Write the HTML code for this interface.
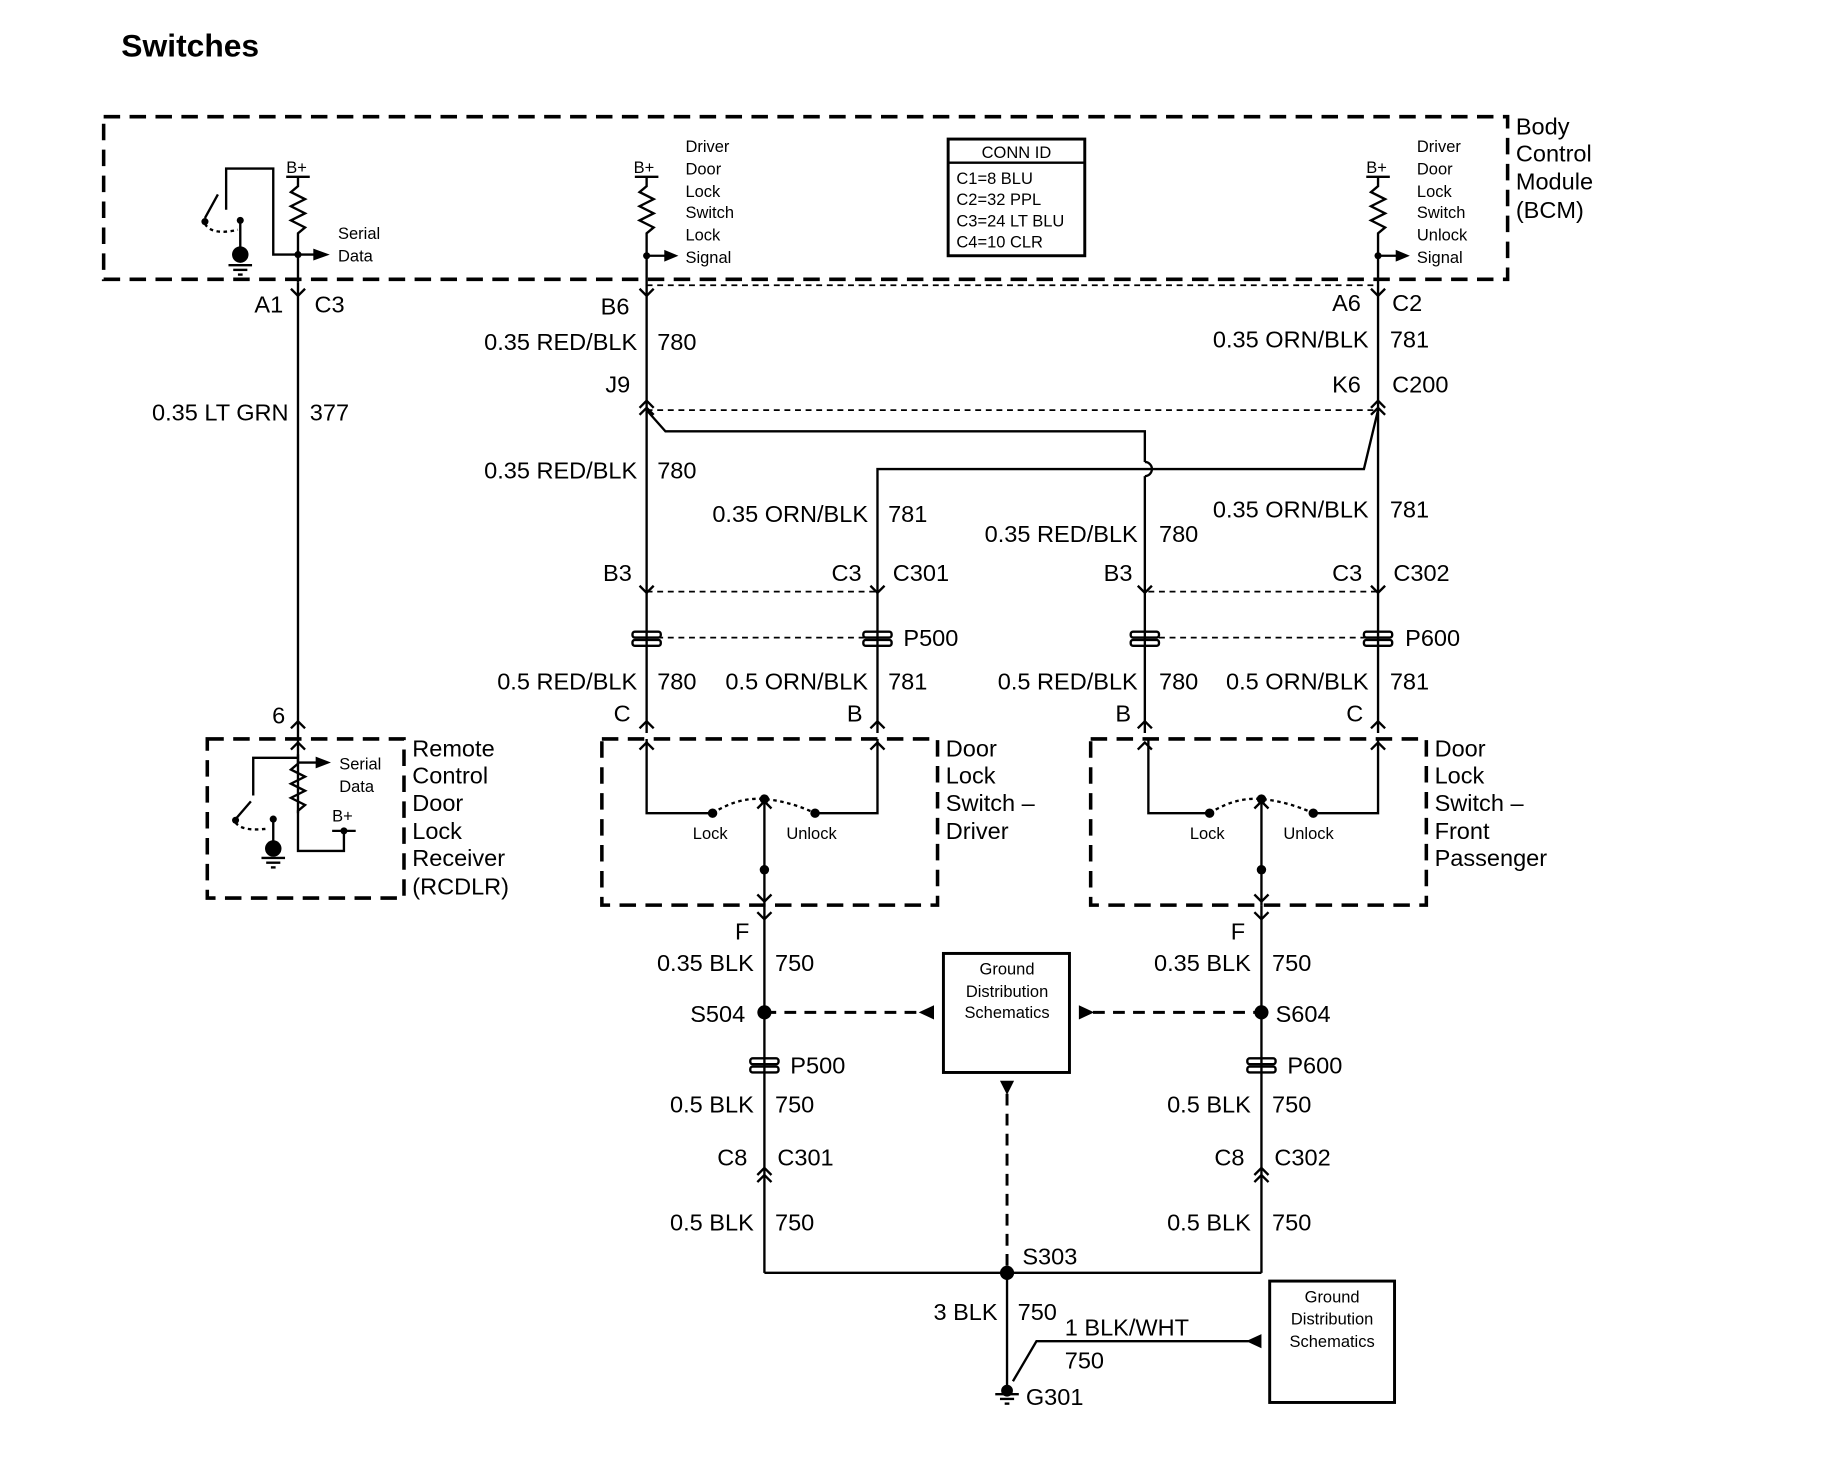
<!DOCTYPE html>
<html><head><meta charset="utf-8"><style>
html,body{margin:0;padding:0;background:#fff}
svg{display:block}
text{font-family:"Liberation Sans",Arial,sans-serif;fill:#000}
</style></head><body>
<svg width="1848" height="1472" viewBox="0 0 1569 1249" preserveAspectRatio="none" xmlns="http://www.w3.org/2000/svg">
<g stroke="#000" fill="none" stroke-width="2">
<g stroke-width="3" stroke-dasharray="14,8">
<rect x="88" y="99" width="1192" height="138"/>
<rect x="176" y="627" width="167" height="135"/>
<rect x="511" y="627" width="285" height="141"/>
<rect x="926" y="627" width="285" height="141"/>
</g>
<g stroke-width="1.5" stroke-dasharray="5,4">
<line x1="549" y1="242" x2="1170" y2="242"/>
<line x1="549" y1="348" x2="1170" y2="348"/>
<line x1="549" y1="502" x2="745" y2="502"/>
<line x1="975" y1="502" x2="1170" y2="502"/>
<line x1="549" y1="541" x2="745" y2="541"/>
<line x1="975" y1="541" x2="1170" y2="541"/>
</g>
<g stroke-width="2.5" stroke-dasharray="10,7">
<line x1="649" y1="859" x2="785" y2="859"/>
<line x1="928" y1="859" x2="1071" y2="859"/>
<line x1="855" y1="928" x2="855" y2="1080"/>
</g>
<rect x="805" y="118" width="116" height="99" stroke-width="2.5"/>
<line x1="805" y1="138" x2="921" y2="138"/>
<rect x="801" y="809" width="107" height="101" stroke-width="2.5"/>
<rect x="1078" y="1087" width="106" height="103" stroke-width="2.5"/>
<polyline points="192,178 192,143 232,143 232,216 268,216"/>
<polyline points="253,150 253,158 247,163 259,169 247,175 259,181 247,187 259,193 253,198 253,240"/>
<line x1="243" y1="150" x2="263" y2="150"/>
<line x1="185" y1="165" x2="174" y2="185"/>
<path d="M174,190 Q180,200 202,195" stroke-dasharray="3,3"/>
<line x1="204" y1="188" x2="204" y2="212"/>
<line x1="194" y1="225" x2="214" y2="225"/><line x1="198" y1="229" x2="210" y2="229"/><line x1="202" y1="233" x2="206" y2="233"/>
<polyline points="549,150 549,158 543,163 555,169 543,175 555,181 543,187 555,193 549,198 549,622"/>
<line x1="539" y1="150" x2="559" y2="150"/>
<line x1="549" y1="217" x2="566" y2="217"/>
<polyline points="1170,150 1170,158 1164,163 1176,169 1164,175 1176,181 1164,187 1176,193 1170,198 1170,622"/>
<line x1="1160" y1="150" x2="1180" y2="150"/>
<line x1="1170" y1="217" x2="1187" y2="217"/>
<line x1="253" y1="240" x2="253" y2="690"/>
<polyline points="549,348 565,366 972,366 972,392"/>
<path d="M972,392 A6,6 0 0 1 972,404"/>
<line x1="972" y1="404" x2="972" y2="622"/>
<polyline points="1170,348 1158,398 745,398 745,622"/>
<g stroke-width="2">
<polyline points="247,245 253,251 259,245"/>
<polyline points="543,245 549,251 555,245"/>
<polyline points="1164,245 1170,251 1176,245"/>
<polyline points="543,346 549,340 555,346"/><polyline points="543,352 549,346 555,352"/>
<polyline points="1164,346 1170,340 1176,346"/><polyline points="1164,352 1170,346 1176,352"/>
<polyline points="543,497 549,503 555,497"/><polyline points="739,497 745,503 751,497"/>
<polyline points="966,497 972,503 978,497"/><polyline points="1164,497 1170,503 1176,497"/>
<polyline points="247,618 253,612 259,618"/>
<polyline points="543,618 549,612 555,618"/><polyline points="739,618 745,612 751,618"/>
<polyline points="966,618 972,612 978,618"/><polyline points="1164,618 1170,612 1176,618"/>
<polyline points="543,636 549,630 555,636"/><polyline points="739,636 745,630 751,636"/>
<polyline points="966,636 972,630 978,636"/><polyline points="1164,636 1170,630 1176,636"/>
<polyline points="247,636 253,630 259,636"/>
<polyline points="643,759 649,765 655,759"/><polyline points="643,774 649,780 655,774"/>
<polyline points="1065,759 1071,765 1077,759"/><polyline points="1065,774 1071,780 1077,774"/>
<polyline points="643,686 649,680 655,686"/><polyline points="1065,686 1071,680 1077,686"/>
<polyline points="643,997 649,991 655,997"/><polyline points="643,1003 649,997 655,1003"/>
<polyline points="1065,997 1071,991 1077,997"/><polyline points="1065,1003 1071,997 1077,1003"/>
</g>
<g stroke-width="2">
<rect x="537" y="536" width="24" height="5" rx="2"/><rect x="537" y="543" width="24" height="5" rx="2"/>
<rect x="733" y="536" width="24" height="5" rx="2"/><rect x="733" y="543" width="24" height="5" rx="2"/>
<rect x="960" y="536" width="24" height="5" rx="2"/><rect x="960" y="543" width="24" height="5" rx="2"/>
<rect x="1158" y="536" width="24" height="5" rx="2"/><rect x="1158" y="543" width="24" height="5" rx="2"/>
<rect x="637" y="898" width="24" height="5" rx="2"/><rect x="637" y="905" width="24" height="5" rx="2"/>
<rect x="1059" y="898" width="24" height="5" rx="2"/><rect x="1059" y="905" width="24" height="5" rx="2"/>
</g>
<polyline points="549,627 549,690 605,690"/>
<polyline points="745,627 745,690 692,690"/>
<path d="M605,690 Q627,676 649,678 Q671,680 692,690" stroke-dasharray="3,3"/>
<line x1="649" y1="678" x2="649" y2="768"/>
<polyline points="975,627 975,690 1027,690"/>
<polyline points="1170,627 1170,690 1115,690"/>
<path d="M1027,690 Q1049,676 1071,678 Q1093,680 1115,690" stroke-dasharray="3,3"/>
<line x1="1071" y1="678" x2="1071" y2="768"/>
<line x1="649" y1="768" x2="649" y2="1080"/>
<line x1="1071" y1="768" x2="1071" y2="1080"/>
<polyline points="649,1080 1071,1080"/>
<line x1="855" y1="1080" x2="855" y2="1180"/>
<polyline points="1060,1138 880,1138 860,1172"/>
<line x1="845" y1="1183" x2="865" y2="1183"/><line x1="849" y1="1187" x2="861" y2="1187"/><line x1="853" y1="1191" x2="857" y2="1191"/>
<polyline points="253,640 253,648 247,653 259,659 247,665 259,671 247,677 259,683 253,688 253,722 292,722 292,705"/>
<line x1="282" y1="705" x2="302" y2="705"/>
<line x1="253" y1="647" x2="270" y2="647"/>
<polyline points="215,675 215,643 253,643"/>
<line x1="213" y1="680" x2="200" y2="695"/>
<path d="M200,698 Q206,706 228,703" stroke-dasharray="3,3"/>
<line x1="232" y1="695" x2="232" y2="718"/>
<line x1="222" y1="728" x2="242" y2="728"/><line x1="226" y1="732" x2="238" y2="732"/><line x1="230" y1="736" x2="234" y2="736"/>
</g>
<g fill="#000" stroke="none">
<polygon points="266,211 280,216 266,221"/>
<polygon points="564,212 576,217 564,222"/>
<polygon points="1185,212 1197,217 1185,222"/>
<polygon points="268,642 281,647 268,652"/>
<circle cx="204" cy="216" r="7"/><circle cx="204" cy="187" r="3"/><circle cx="174" cy="188" r="3"/>
<circle cx="253" cy="216" r="3"/><circle cx="549" cy="217" r="3"/><circle cx="1170" cy="217" r="3"/>
<circle cx="232" cy="720" r="7"/><circle cx="232" cy="695" r="3"/><circle cx="200" cy="696" r="3"/><circle cx="292" cy="705" r="3"/>
<circle cx="605" cy="690" r="4"/><circle cx="692" cy="690" r="4"/><circle cx="649" cy="678" r="4"/><circle cx="649" cy="738" r="4"/>
<circle cx="1027" cy="690" r="4"/><circle cx="1115" cy="690" r="4"/><circle cx="1071" cy="678" r="4"/><circle cx="1071" cy="738" r="4"/>
<circle cx="649" cy="859" r="6"/><circle cx="1071" cy="859" r="6"/><circle cx="855" cy="1080" r="6"/><circle cx="855" cy="1180" r="5"/>
<polygon points="793,853 780,859 793,865"/>
<polygon points="916,853 929,859 916,865"/>
<polygon points="849,917 861,917 855,929"/>
<polygon points="1071,1132 1058,1138 1071,1144"/>
</g>
<text x="103" y="48" font-size="27" font-weight="bold">Switches</text>
<g font-size="20">
<text x="1287" y="114">Body</text><text x="1287" y="137">Control</text><text x="1287" y="161">Module</text><text x="1287" y="185">(BCM)</text>
<text x="216" y="265">A1</text><text x="267" y="265">C3</text>
<text x="245" y="357" text-anchor="end">0.35 LT GRN</text><text x="263" y="357">377</text>
<text x="231" y="614">6</text>
<text x="350" y="642">Remote</text><text x="350" y="665">Control</text><text x="350" y="688">Door</text><text x="350" y="712">Lock</text><text x="350" y="735">Receiver</text><text x="350" y="759">(RCDLR)</text>
<text x="510" y="267">B6</text>
<text x="541" y="297" text-anchor="end">0.35 RED/BLK</text><text x="558" y="297">780</text>
<text x="514" y="333">J9</text>
<text x="1131" y="264">A6</text><text x="1182" y="264">C2</text>
<text x="1162" y="295" text-anchor="end">0.35 ORN/BLK</text><text x="1180" y="295">781</text>
<text x="1131" y="333">K6</text><text x="1182" y="333">C200</text>
<text x="541" y="406" text-anchor="end">0.35 RED/BLK</text><text x="558" y="406">780</text>
<text x="737" y="443" text-anchor="end">0.35 ORN/BLK</text><text x="754" y="443">781</text>
<text x="966" y="460" text-anchor="end">0.35 RED/BLK</text><text x="984" y="460">780</text>
<text x="1162" y="439" text-anchor="end">0.35 ORN/BLK</text><text x="1180" y="439">781</text>
<text x="512" y="493">B3</text><text x="706" y="493">C3</text><text x="758" y="493">C301</text>
<text x="937" y="493">B3</text><text x="1131" y="493">C3</text><text x="1183" y="493">C302</text>
<text x="767" y="548">P500</text><text x="1193" y="548">P600</text>
<text x="541" y="585" text-anchor="end">0.5 RED/BLK</text><text x="558" y="585">780</text>
<text x="737" y="585" text-anchor="end">0.5 ORN/BLK</text><text x="754" y="585">781</text>
<text x="966" y="585" text-anchor="end">0.5 RED/BLK</text><text x="984" y="585">780</text>
<text x="1162" y="585" text-anchor="end">0.5 ORN/BLK</text><text x="1180" y="585">781</text>
<text x="521" y="612">C</text><text x="719" y="612">B</text><text x="947" y="612">B</text><text x="1143" y="612">C</text>
<text x="803" y="642">Door</text><text x="803" y="665">Lock</text><text x="803" y="688">Switch –</text><text x="803" y="712">Driver</text>
<text x="1218" y="642">Door</text><text x="1218" y="665">Lock</text><text x="1218" y="688">Switch –</text><text x="1218" y="712">Front</text><text x="1218" y="735">Passenger</text>
<text x="624" y="797">F</text><text x="1045" y="797">F</text>
<text x="640" y="824" text-anchor="end">0.35 BLK</text><text x="658" y="824">750</text>
<text x="1062" y="824" text-anchor="end">0.35 BLK</text><text x="1080" y="824">750</text>
<text x="586" y="867">S504</text><text x="1083" y="867">S604</text>
<text x="671" y="911">P500</text><text x="1093" y="911">P600</text>
<text x="640" y="944" text-anchor="end">0.5 BLK</text><text x="658" y="944">750</text>
<text x="1062" y="944" text-anchor="end">0.5 BLK</text><text x="1080" y="944">750</text>
<text x="609" y="989">C8</text><text x="660" y="989">C301</text>
<text x="1031" y="989">C8</text><text x="1082" y="989">C302</text>
<text x="640" y="1044" text-anchor="end">0.5 BLK</text><text x="658" y="1044">750</text>
<text x="1062" y="1044" text-anchor="end">0.5 BLK</text><text x="1080" y="1044">750</text>
<text x="868" y="1073">S303</text>
<text x="847" y="1120" text-anchor="end">3 BLK</text><text x="864" y="1120">750</text>
<text x="904" y="1133">1 BLK/WHT</text><text x="904" y="1161">750</text>
<text x="871" y="1192">G301</text>
</g>
<g font-size="14">
<text x="243" y="147">B+</text><text x="538" y="147">B+</text><text x="1160" y="147">B+</text>
<text x="287" y="203">Serial</text><text x="287" y="222">Data</text>
<text x="582" y="129">Driver</text><text x="582" y="148">Door</text><text x="582" y="167">Lock</text><text x="582" y="185">Switch</text><text x="582" y="204">Lock</text><text x="582" y="223">Signal</text>
<text x="1203" y="129">Driver</text><text x="1203" y="148">Door</text><text x="1203" y="167">Lock</text><text x="1203" y="185">Switch</text><text x="1203" y="204">Unlock</text><text x="1203" y="223">Signal</text>
<text x="863" y="134" text-anchor="middle">CONN ID</text>
<text x="812" y="156">C1=8 BLU</text><text x="812" y="174">C2=32 PPL</text><text x="812" y="192">C3=24 LT BLU</text><text x="812" y="210">C4=10 CLR</text>
<text x="288" y="653">Serial</text><text x="288" y="672">Data</text><text x="282" y="697">B+</text>
<text x="603" y="712" text-anchor="middle">Lock</text><text x="689" y="712" text-anchor="middle">Unlock</text>
<text x="1025" y="712" text-anchor="middle">Lock</text><text x="1111" y="712" text-anchor="middle">Unlock</text>
<text x="855" y="827" text-anchor="middle">Ground</text><text x="855" y="846" text-anchor="middle">Distribution</text><text x="855" y="864" text-anchor="middle">Schematics</text>
<text x="1131" y="1105" text-anchor="middle">Ground</text><text x="1131" y="1124" text-anchor="middle">Distribution</text><text x="1131" y="1143" text-anchor="middle">Schematics</text>
</g>
</svg>
</body></html>
